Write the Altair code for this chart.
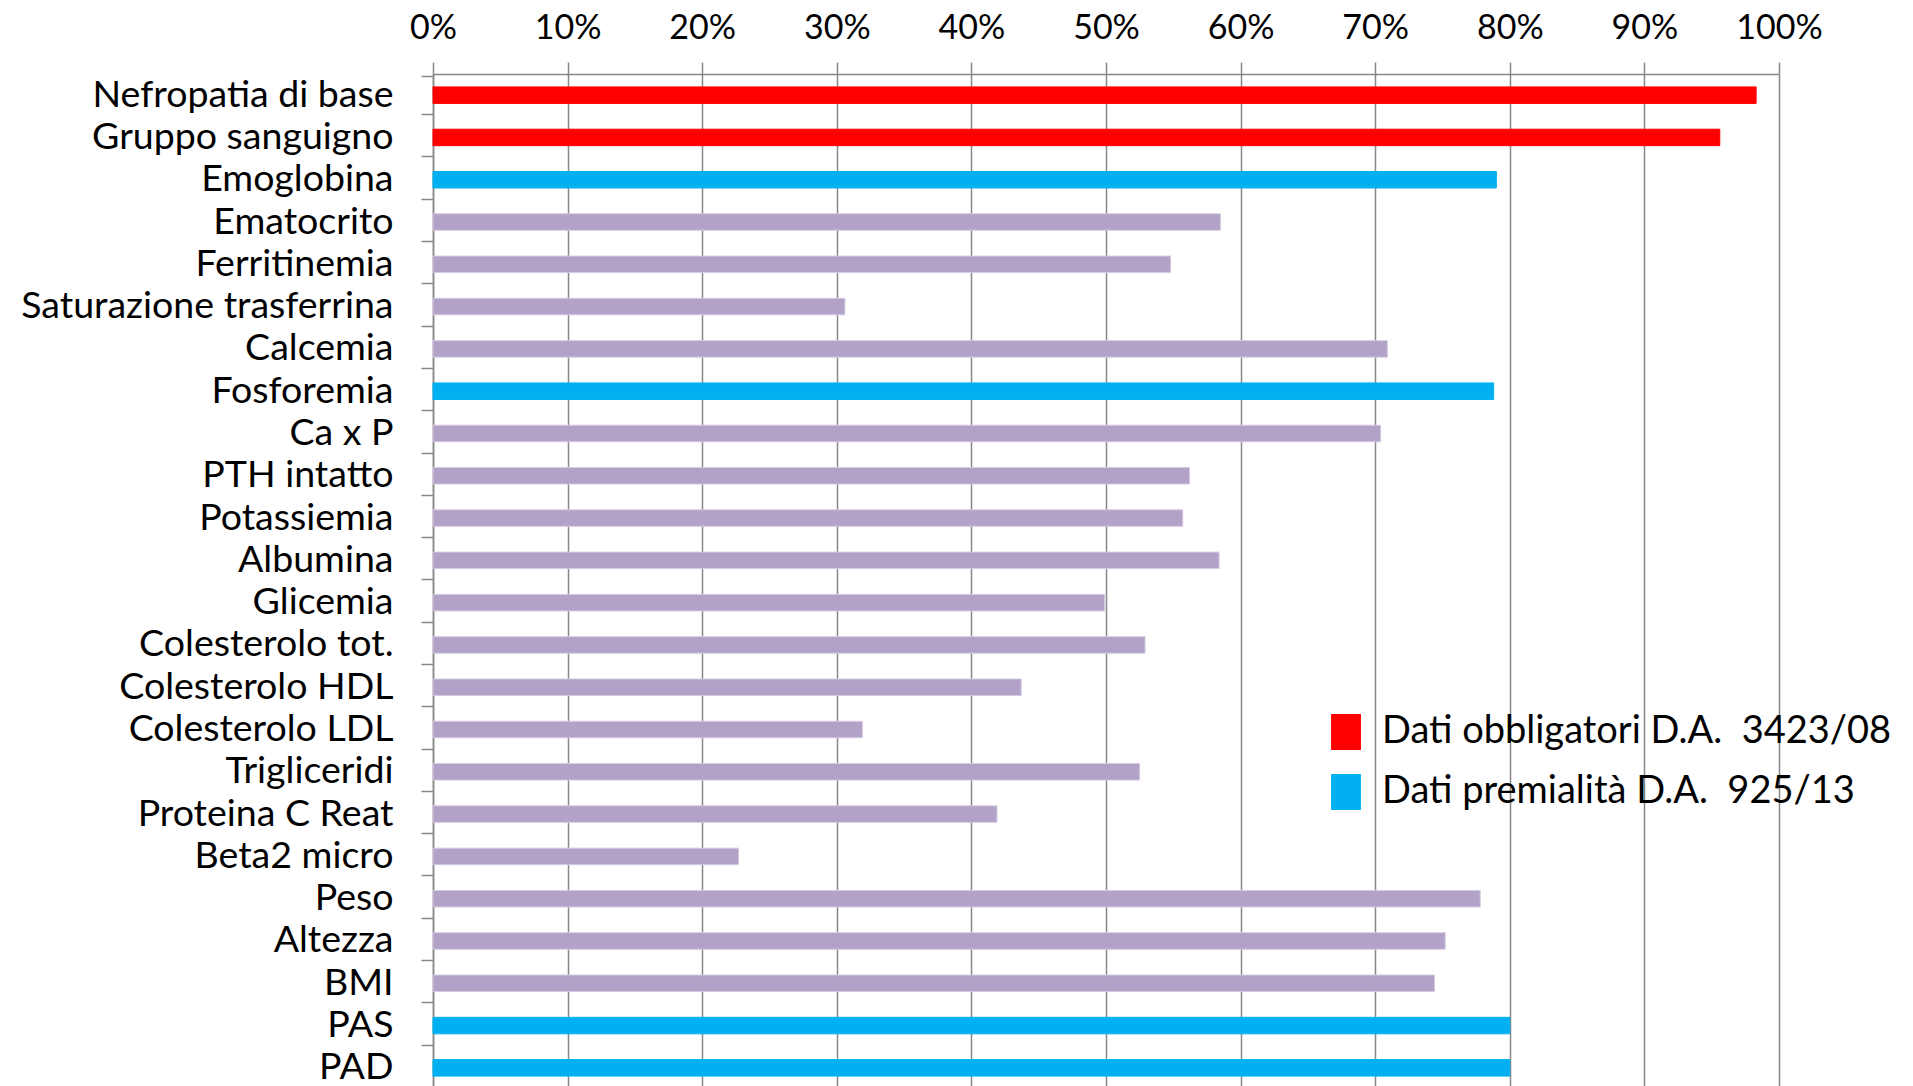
import altair as alt
import pandas as pd

categories = [
    "Nefropatia di base", "Gruppo sanguigno", "Emoglobina", "Ematocrito",
    "Ferritinemia", "Saturazione trasferrina", "Calcemia", "Fosforemia",
    "Ca x P", "PTH intatto", "Potassiemia", "Albumina", "Glicemia",
    "Colesterolo tot.", "Colesterolo HDL", "Colesterolo LDL", "Trigliceridi",
    "Proteina C Reat", "Beta2 micro", "Peso", "Altezza", "BMI", "PAS", "PAD",
]
values = [
    0.983, 0.956, 0.790, 0.585, 0.548, 0.306, 0.709, 0.788,
    0.704, 0.562, 0.557, 0.584, 0.499, 0.529, 0.437, 0.319,
    0.525, 0.419, 0.227, 0.778, 0.752, 0.744, 0.800, 0.800,
]
LEG_OBB = "Dati obbligatori D.A.\u00a0 3423/08"
LEG_PREM = "Dati premialità D.A.\u00a0 925/13"
OTHER = "Altri dati"
groups = [
    LEG_OBB, LEG_OBB, LEG_PREM, OTHER, OTHER, OTHER, OTHER, LEG_PREM,
    OTHER, OTHER, OTHER, OTHER, OTHER, OTHER, OTHER, OTHER,
    OTHER, OTHER, OTHER, OTHER, OTHER, OTHER, LEG_PREM, LEG_PREM,
]
group_domain = [LEG_OBB, LEG_PREM, OTHER]
fill_colors = ["#FF0000", "#00B0F0", "#B3A2C7"]
edge_colors = ["#FF0000", "#00B0F0", "#D3CAE0"]
x_ticks = [i / 10 for i in range(11)]

df = pd.DataFrame({"cat": categories, "val": values, "grp": groups})

FONT = "Lato"
GRAY = "#888888"

bars = alt.Chart(df).mark_bar(size=16.5, strokeWidth=1).encode(
    y=alt.Y(
        "cat:N",
        sort=categories,
        title=None,
        axis=alt.Axis(
            domainColor=GRAY, domainWidth=1.5,
            tickColor=GRAY, tickWidth=1.5, tickSize=12, tickBand="extent",
            labelFont=FONT, labelFontSize=37.5, labelColor="#000000",
            labelPadding=28, labelLimit=500, grid=False,
        ),
    ),
    x=alt.X(
        "val:Q",
        scale=alt.Scale(domain=[0, 1], nice=False),
        title=None,
        axis=alt.Axis(
            orient="top", format=".0%", values=x_ticks,
            domainColor=GRAY, domainWidth=1.5,
            tickColor=GRAY, tickWidth=1.5, tickSize=12,
            grid=True, gridColor=GRAY, gridWidth=1.5,
            labelFont=FONT, labelFontSize=34, labelColor="#000000",
            labelPadding=24, labelBaseline="alphabetic",
            labelOverlap=False, labelFlush=False,
        ),
    ),
    color=alt.Color(
        "grp:N",
        scale=alt.Scale(domain=group_domain, range=fill_colors),
        legend=alt.Legend(
            values=[LEG_OBB, LEG_PREM],
            title=None,
            orient="none",
            legendX=894,
            legendY=639,
            symbolType="M-0.83,-1H0.83V1H-0.83Z",
            symbolSize=1296,
            symbolStrokeWidth=0,
            symbolOpacity=1,
            labelFont=FONT,
            labelFontSize=38,
            labelColor="#000000",
            labelOffset=17,
            labelLimit=700,
            rowPadding=22,
            padding=0,
        ),
    ),
    stroke=alt.Stroke(
        "grp:N",
        scale=alt.Scale(domain=group_domain, range=edge_colors),
        legend=None,
    ),
)

chart = bars.properties(
    width=1346,
    height=1015,
    autosize=alt.AutoSizeParams(type="none"),
    padding={"left": 425, "top": 66, "right": 125, "bottom": 0},
).configure_view(stroke=None).configure(background="#FFFFFF")

chart.save("out.html", embed_options={"renderer": "svg", "actions": False})
